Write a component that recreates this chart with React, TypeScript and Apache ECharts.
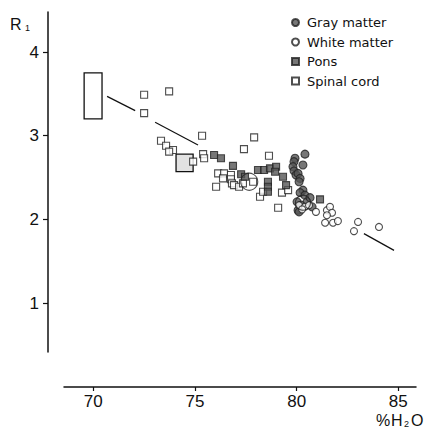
import React, { useEffect, useRef } from 'react';
import * as echarts from 'echarts';

const xTicks = [70, 75, 80, 85];
const yTicks = [1, 2, 3, 4];

const grayMatter: [number, number][] = [
  [80.41, 2.78], [79.92, 2.73], [80.31, 2.65], [79.87, 2.69], [79.82, 2.63],
  [79.87, 2.58], [79.97, 2.53], [80.07, 2.55], [80.17, 2.49], [80.12, 2.45],
  [80.31, 2.35], [80.17, 2.32], [80.02, 2.21], [80.41, 2.29], [80.51, 2.21],
  [80.07, 2.11], [80.22, 2.17], [80.66, 2.26], [80.12, 2.09], [80.76, 2.15],
];

const whiteMatter: [number, number][] = [
  [80.12, 2.17], [80.41, 2.15], [80.61, 2.17], [80.27, 2.12], [80.95, 2.09],
  [81.49, 2.11], [81.64, 2.15], [81.74, 2.08], [81.49, 2.05], [81.4, 1.96],
  [81.79, 1.96], [82.03, 1.98], [83.02, 1.97], [82.82, 1.86], [84.05, 1.91],
];

const pons: [number, number][] = [
  [75.94, 2.77], [76.28, 2.73], [76.87, 2.64], [77.27, 2.54], [77.46, 2.51],
  [78.1, 2.59], [78.4, 2.59], [78.69, 2.61], [78.99, 2.63], [78.94, 2.57],
  [78.59, 2.45], [78.59, 2.39], [78.59, 2.33], [79.33, 2.51], [79.48, 2.41],
  [81.15, 2.24],
];

const spinalCord: [number, number][] = [
  [72.5, 3.49], [73.73, 3.53], [72.5, 3.27], [75.35, 3.0], [77.91, 2.98],
  [73.33, 2.94], [73.58, 2.88], [73.92, 2.83], [73.73, 2.81], [75.4, 2.78],
  [75.45, 2.73], [74.91, 2.69], [77.41, 2.84], [78.64, 2.76], [76.14, 2.55],
  [76.43, 2.55], [76.38, 2.49], [76.77, 2.53], [76.77, 2.48], [76.82, 2.43],
  [76.04, 2.39], [76.92, 2.41], [77.17, 2.39], [77.36, 2.43], [77.86, 2.45],
  [78.2, 2.27], [78.35, 2.33], [79.28, 2.32], [79.58, 2.35], [79.09, 2.14],
];

// large open circles (group means): [x, y, diameter]
const meanCircles: [number, number, number][] = [
  [77.67, 2.45, 17],
  [80.31, 2.2, 15],
];

// boxes: [x0, x1, y0, y1]
const openBox: [number, number, number, number][] = [[69.55, 70.43, 3.2, 3.75]];
const stippleBox: [number, number, number, number][] = [[74.07, 74.91, 2.57, 2.78]];

// regression line segments
const regressionSegments: [number, number][][] = [
  [[70.68, 3.47], [72.06, 3.3]],
  [[73.04, 3.16], [75.15, 2.89]],
  [[83.31, 1.83], [84.79, 1.63]],
];

const FONT = "'Liberation Sans', Arial, sans-serif";

export default function App() {
  const ref = useRef<HTMLDivElement>(null);
  useEffect(() => {
    const chart = echarts.init(ref.current!, null, { renderer: 'svg' });
    const boxRender = (fill: string) => (params: any, api: any) => {
      const p0 = api.coord([api.value(0), api.value(3)]);
      const p1 = api.coord([api.value(1), api.value(2)]);
      return {
        type: 'rect',
        shape: { x: p0[0], y: p0[1], width: p1[0] - p0[0], height: p1[1] - p0[1] },
        style: { fill, stroke: '#111', lineWidth: 1.3 },
      };
    };
    const markerStyle = (fill: string) => ({
      color: fill,
      borderColor: '#222',
      borderWidth: 1.1,
    });
    chart.setOption({
      animation: false,
      backgroundColor: '#fff',
      grid: { left: 64, right: 13, top: 12, bottom: 76 },
      xAxis: {
        type: 'value',
        min: 68.56,
        max: 85.87,
        offset: 35,
        splitLine: { show: false },
        axisLine: { show: true, lineStyle: { color: '#111', width: 1.5 } },
        axisTick: { show: true, length: 4, customValues: xTicks, lineStyle: { color: '#111', width: 1.2 } },
        axisLabel: { customValues: xTicks, margin: 6, fontSize: 17, color: '#111', fontFamily: FONT },
      },
      yAxis: {
        type: 'value',
        min: 0.416,
        max: 4.478,
        offset: 16,
        splitLine: { show: false },
        axisLine: { show: true, lineStyle: { color: '#111', width: 1.5 } },
        axisTick: { show: true, length: 5, customValues: yTicks, lineStyle: { color: '#111', width: 1.2 } },
        axisLabel: { customValues: yTicks, margin: 9, fontSize: 17, color: '#111', fontFamily: FONT },
      },
      legend: {
        orient: 'vertical',
        left: 286,
        top: 11,
        itemWidth: 7,
        itemHeight: 7,
        itemGap: 6.5,
        textStyle: { fontSize: 13, lineHeight: 13, color: '#111', fontFamily: 'DejaVu Sans', padding: [0, 0, 0, 3] },
        data: ['Gray matter', 'White matter', 'Pons', 'Spinal cord'],
      },
      graphic: [
        { type: 'text', left: 10, top: 16, style: { text: 'R', fontSize: 16, fontFamily: FONT, fill: '#111' } },
        { type: 'text', left: 25, top: 23, style: { text: '1', fontSize: 9, fontFamily: FONT, fill: '#111' } },
        { type: 'text', left: 376, top: 412, style: { text: '%', fontSize: 16, fontFamily: FONT, fill: '#111' } },
        { type: 'text', left: 391, top: 412, style: { text: 'H', fontSize: 16, fontFamily: FONT, fill: '#111' } },
        { type: 'text', left: 404, top: 419, style: { text: '2', fontSize: 9, fontFamily: FONT, fill: '#111' } },
        { type: 'text', left: 411, top: 412, style: { text: 'O', fontSize: 16, fontFamily: FONT, fill: '#111' } },
      ],
      series: [
        {
          type: 'custom',
          name: 'box',
          renderItem: boxRender('#fff'),
          data: openBox,
          z: 1,
          silent: true,
        },
        {
          type: 'custom',
          name: 'box2',
          renderItem: boxRender('#e2e2e2'),
          data: stippleBox,
          z: 1,
          silent: true,
        },
        {
          type: 'lines',
          coordinateSystem: 'cartesian2d',
          data: regressionSegments.map((c) => ({ coords: c })),
          lineStyle: { color: '#111', width: 1.2, opacity: 1 },
          z: 1,
          silent: true,
        },
        {
          type: 'scatter',
          name: 'Spinal cord',
          symbol: 'rect',
          symbolSize: 7,
          data: spinalCord,
          itemStyle: markerStyle('#fff'),
          z: 2,
        },
        {
          type: 'scatter',
          name: 'Pons',
          symbol: 'rect',
          symbolSize: 7,
          data: pons,
          itemStyle: markerStyle('#555'),
          z: 3,
        },
        {
          type: 'scatter',
          name: 'Gray matter',
          symbol: 'circle',
          symbolSize: 8,
          data: grayMatter,
          itemStyle: markerStyle('#555'),
          z: 4,
        },
        {
          type: 'scatter',
          name: 'White matter',
          symbol: 'circle',
          symbolSize: 7,
          data: whiteMatter,
          itemStyle: markerStyle('#fff'),
          z: 5,
        },
        {
          type: 'scatter',
          name: 'mean',
          symbol: 'circle',
          data: meanCircles,
          symbolSize: (v: number[]) => v[2],
          itemStyle: { color: 'rgba(0,0,0,0)', borderColor: '#222', borderWidth: 1.1 },
          z: 6,
          silent: true,
        },
      ],
    });
    return () => chart.dispose();
  }, []);
  return <div ref={ref} style={{ position: 'absolute', left: 0, top: 0, width: 429, height: 428 }} />;
}
